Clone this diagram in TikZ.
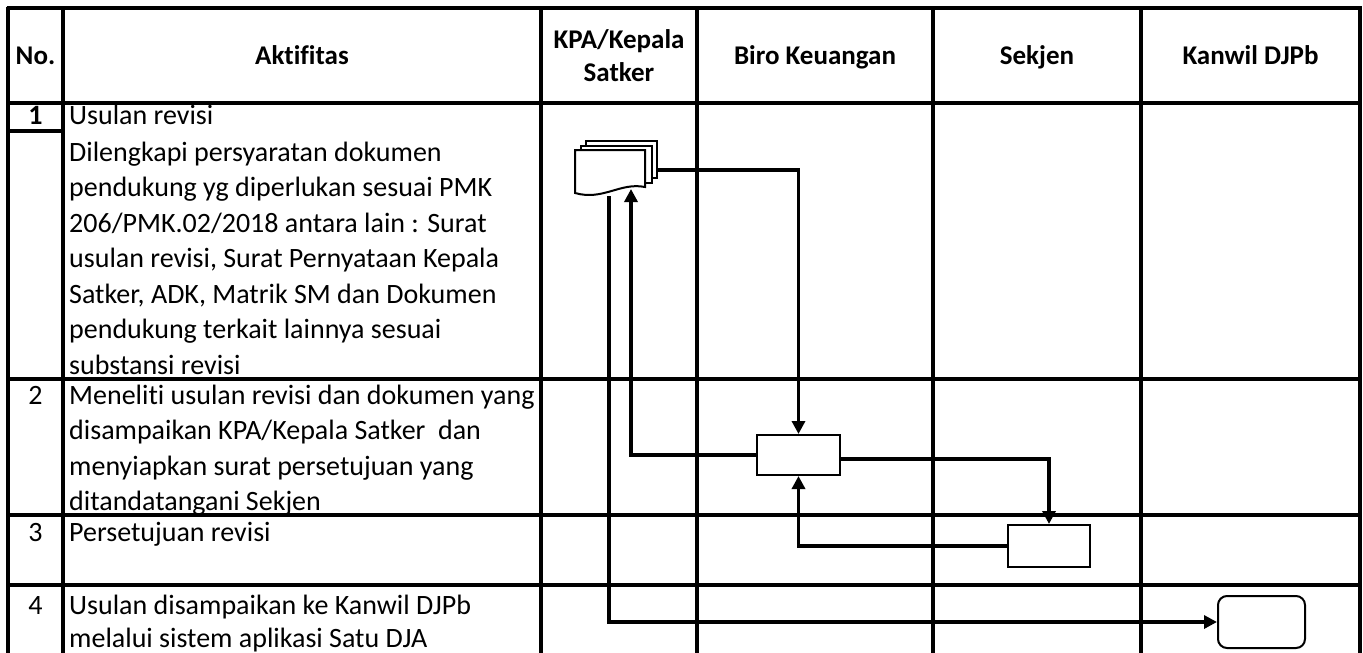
\documentclass[tikz,border=0pt]{standalone}
\usepackage{fontspec}
\setmainfont{Carlito}[Ligatures=NoCommon]
\usetikzlibrary{arrows.meta,positioning,calc}
\tikzset{
  grid/.style={line width=3.5pt},
  cell/.style={anchor=base west, inner sep=0pt, font=\fontsize{28}{36}\selectfont},
  num/.style={anchor=base, inner sep=0pt, font=\fontsize{28}{36}\selectfont},
  head/.style={anchor=base, align=center, inner sep=0pt, font=\fontsize{27}{33}\selectfont\bfseries},
  page/.style={rectangle, draw, fill=white, line width=2pt, minimum width=71pt,
    minimum height=37pt, inner sep=0pt},
  proc/.style={rectangle, draw, fill=white, line width=2pt, minimum width=83pt,
    minimum height=40pt, inner sep=0pt},
  term/.style={rectangle, rounded corners=9pt, draw, fill=white, line width=2pt,
    minimum width=87pt, minimum height=52pt, inner sep=0pt},
  flow/.style={line width=3.5pt, -{Triangle[length=13pt,width=13pt]}},
}

\begin{document}
\begin{tikzpicture}[x=1pt,y=-1pt]
  \useasboundingbox (0,0) rectangle (1363,653);
  % table
  \foreach \xc in {8,63,541,697,933,1141,1360}
    \draw[grid] (\xc,6.5) -- (\xc,660);
  \foreach \yc in {8,103,379,515,585}
    \draw[grid] (6.5,\yc) -- (1361.5,\yc);
  \draw[grid] (6.5,131) -- (63,131);

  % header
  \node[head] (hno) at (35.5,64) {No.};
  \node[head] (hakt) at (302,64) {Aktifitas};
  \node[head, anchor=center] (hkpa) at (619,56) {KPA/Kepala\\Satker};
  \node[head] (hbiro) at (815,64) {Biro Keuangan};
  \node[head] (hsek) at (1037,64) {Sekjen};
  \node[head] (hkan) at (1250.5,64) {Kanwil DJPb};

  % rows
  \node[num, font=\fontsize{28}{36}\selectfont\bfseries] (n1) at (35.5,124) {1};
  \node[num] (n2) at (35.5,404) {2};
  \node[num] (n3) at (35.5,541) {3};
  \node[num] (n4) at (35.5,614) {4};
  \node[cell] (r1) at (69,124) {Usulan revisi};
  \foreach \t [count=\i from 0] in {{Dilengkapi persyaratan dokumen},
      {pendukung yg diperlukan sesuai PMK}, {206/PMK.02/2018 antara lain : Surat},
      {usulan revisi, Surat Pernyataan Kepala}, {Satker, ADK, Matrik SM dan Dokumen},
      {pendukung terkait lainnya sesuai}, {substansi revisi}}
    \node[cell] (ra\i) at (69,161+35.5*\i) {\t};
  \foreach \t [count=\i from 0] in {{Meneliti usulan revisi dan dokumen yang},
      {disampaikan KPA/Kepala Satker~ dan}, {menyiapkan surat persetujuan yang},
      {ditandatangani Sekjen}}
    \node[cell] (rb\i) at (69,404+35.5*\i) {\t};
  \node[cell] (r3) at (69,541) {Persetujuan revisi};
  \node[cell] (r4a) at (69,614) {Usulan disampaikan ke Kanwil DJPb};
  \node[cell] (r4b) at (69,647) {melalui sistem aplikasi Satu DJA};

  % flow
  \node[page] (docb) at (621.5,159.5) {};
  \node[page] (docm) at (616,164) {};
  \draw[line width=2pt, fill=white] (575,150) -- (645,150) -- (645,187)
    .. controls (620,182) and (603,201) .. (575,193) -- cycle;
  \coordinate (doc) at (610,170);
  \coordinate (docup) at (631,189);
  \coordinate (docdn) at (609,196);
  \node[proc] (biro) at (798.5,455) {};
  \node[proc, minimum width=82pt, minimum height=42pt] (sekjen) at (1049,546) {};
  \node[term] (kanwil) at (1261.5,622) {};

  \draw[flow] (docb.east |- doc) -| (biro.north);
  \draw[flow] (biro.west) -| (docup);
  \draw[flow] ($(biro.east)+(0,4)$) -| (sekjen.north);
  \draw[flow] (sekjen.west) -| (biro.south);
  \draw[flow] (docdn) |- (kanwil.west);
\end{tikzpicture}
\end{document}
